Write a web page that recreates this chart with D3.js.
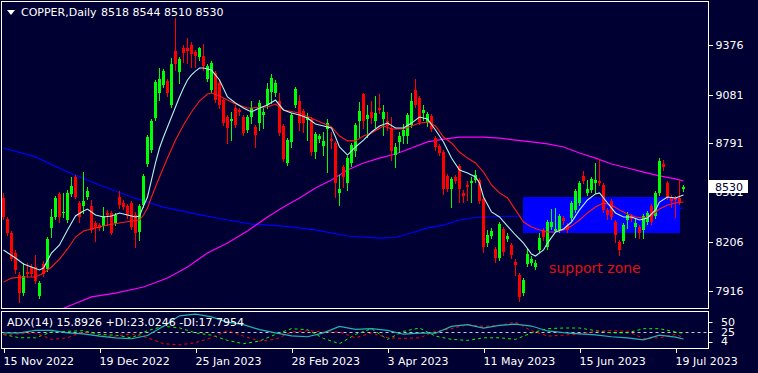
<!DOCTYPE html>
<html><head><meta charset="utf-8">
<script src="https://cdn.jsdelivr.net/npm/d3@7"></script>
<style>
html,body{margin:0;padding:0;background:#000033;}
svg{display:block;font-family:"DejaVu Sans",sans-serif;}
</style></head><body>
<svg id="c" width="758" height="373"></svg>
<script>
// ---------- DATA ----------
const symbolTitle = "COPPER,Daily";
const lastOHLC = "8518 8544 8510 8530";
const lastClose = 8530;
// [open, high, low, close] per daily bar
const candles = [
[8467,8497,8342,8354],[8342,8354,8247,8259],[8259,8271,8098,8104],[8140,8158,8021,8039],[8009,8027,7849,7902],
[7902,8081,7890,8003],[8027,8081,8003,8015],[8057,8075,8003,8015],[8057,8128,7962,7974],[7885,7974,7873,7962],
[8075,8092,8003,8015],[8045,8235,8033,8223],[8289,8401,8235,8354],[8354,8479,8342,8467],[8491,8502,8324,8354],
[8378,8497,8354,8384],[8336,8514,8324,8497],[8491,8592,8479,8538],[8592,8603,8467,8473],[8437,8449,8324,8354],
[8419,8621,8378,8449],[8473,8532,8461,8508],[8419,8455,8265,8277],[8318,8330,8211,8289],[8306,8318,8277,8289],
[8300,8413,8277,8360],[8378,8396,8306,8366],[8378,8390,8253,8259],[8318,8378,8306,8366],[8473,8508,8407,8425],
[8437,8455,8401,8413],[8419,8431,8348,8360],[8437,8449,8283,8294],[8366,8384,8176,8259],[8265,8431,8217,8419],
[8425,8609,8413,8598],[8669,8841,8657,8829],[8752,8936,8740,8924],[8942,9168,8930,9156],[9091,9239,9049,9174],
[9138,9233,9126,9221],[9162,9174,9073,9091],[9019,9299,9008,9263],[9340,9536,9227,9263],[9215,9305,9150,9293],
[9358,9376,9275,9328],[9358,9417,9269,9340],[9376,9394,9245,9322],[9334,9346,9245,9311],[9305,9364,9287,9358],
[9311,9382,9227,9251],[9174,9263,9162,9251],[9109,9281,9097,9269],[9210,9221,9037,9049],[9150,9168,9002,9019],
[9049,9061,8901,8912],[8948,8960,8794,8883],[8924,8978,8811,8936],[9002,9019,8889,8901],[8990,9002,8960,8978],
[8948,8960,8841,8853],[8871,8960,8859,8948],[8948,9043,8912,9002],[8889,8901,8770,8841],[8912,9049,8871,9031],
[8960,9002,8883,8978],[9019,9150,9002,9114],[9097,9204,9031,9180],[9091,9168,9073,9150],[9043,9091,8841,8853],
[8895,8907,8687,8699],[8675,8823,8663,8811],[8800,8972,8770,8960],[9019,9126,9008,9114],[9043,9079,8871,8912],
[8984,8996,8859,8912],[8930,8972,8811,8948],[8936,8948,8722,8740],[8740,8859,8704,8847],[8817,8847,8800,8835],
[8776,8859,8722,8806],[8877,8936,8621,8912],[8817,8859,8764,8806],[8794,8806,8473,8556],[8497,8603,8425,8520],
[8651,8663,8532,8592],[8556,8716,8514,8704],[8675,8794,8657,8782],[8746,8912,8716,8901],[8924,9037,8829,8984],
[9085,9091,8883,8924],[8936,9019,8829,8960],[8978,9043,8912,8942],[8924,9073,8889,8972],[9002,9085,8972,8990],
[8936,9019,8841,8978],[8924,8978,8871,8895],[8883,8948,8693,8746],[8722,8794,8651,8770],[8800,8859,8740,8835],
[8835,8907,8794,8871],[8835,8972,8794,8960],[8901,9091,8889,9043],[9109,9174,9008,9019],[9061,9073,8907,8918],
[8972,9019,8930,8990],[8912,8978,8895,8966],[8954,8966,8865,8877],[8823,8835,8752,8770],[8776,8788,8722,8734],
[8740,8752,8491,8520],[8598,8609,8508,8520],[8520,8592,8413,8580],[8592,8603,8556,8568],[8657,8669,8443,8520],
[8497,8514,8443,8479],[8544,8568,8455,8532],[8556,8592,8443,8568],[8574,8633,8562,8603],[8574,8586,8437,8449],
[8461,8473,8146,8176],[8199,8277,8182,8247],[8241,8289,8229,8271],[8164,8176,8087,8110],[8110,8324,8098,8312],
[8283,8294,8128,8146],[8223,8259,8211,8241],[8188,8199,8110,8128],[8087,8104,8009,8069],[8009,8021,7855,7879],
[7902,7991,7890,7980],[8075,8170,8063,8134],[8081,8122,8069,8104],[8057,8098,8045,8081],[8158,8259,8146,8229],
[8277,8289,8217,8235],[8176,8336,8164,8324],[8294,8401,8283,8324],[8271,8407,8265,8283],[8277,8372,8265,8360],
[8348,8360,8312,8330],[8306,8318,8265,8277],[8348,8449,8336,8437],[8396,8520,8384,8508],[8437,8568,8425,8556],
[8598,8627,8556,8568],[8497,8574,8485,8520],[8514,8592,8502,8580],[8556,8675,8497,8574],[8568,8699,8544,8556],
[8544,8556,8384,8396],[8396,8407,8342,8366],[8449,8461,8342,8354],[8324,8336,8205,8247],[8205,8217,8128,8158],
[8211,8318,8199,8306],[8336,8384,8289,8366],[8360,8372,8330,8342],[8294,8348,8235,8318],[8294,8306,8229,8259],
[8277,8372,8229,8360],[8324,8390,8312,8378],[8419,8431,8312,8324],[8360,8508,8348,8497],[8497,8704,8485,8687],
[8669,8693,8633,8651],[8556,8568,8461,8473],[8473,8485,8413,8449],[8467,8479,8354,8455],[8467,8574,8431,8443],
[8518,8544,8510,8530]
];
// moving averages: [bar index, value]
const maFast = [[0,8158],[3,8110],[5,8075],[7,8057],[9,8039],[10,8051],[12,8140],[14,8188],[16,8277],[18,8360],[20,8390],[21,8401],[23,8366],[25,8354],[27,8360],[29,8378],[31,8366],[33,8354],[34,8360],[35,8419],[36,8473],[37,8574],[38,8675],[39,8764],[40,8829],[41,8889],[42,8948],[43,9008],[44,9067],[45,9120],[46,9168],[47,9198],[48,9221],[49,9239],[50,9239],[52,9227],[54,9168],[56,9067],[58,9031],[60,9002],[61,8990],[62,8978],[64,9002],[66,9019],[68,9049],[70,8990],[72,8972],[74,8960],[76,8942],[78,8907],[80,8895],[82,8883],[83,8829],[84,8770],[86,8722],[88,8770],[90,8811],[92,8859],[94,8895],[96,8912],[98,8883],[100,8883],[102,8912],[104,8948],[106,8936],[108,8871],[110,8800],[112,8704],[114,8633],[116,8615],[118,8592],[119,8556],[120,8473],[122,8384],[124,8354],[126,8300],[128,8247],[130,8199],[132,8134],[133,8122],[135,8158],[136,8199],[138,8265],[140,8283],[142,8324],[144,8396],[146,8455],[148,8491],[149,8497],[151,8437],[153,8378],[155,8354],[157,8354],[159,8336],[161,8348],[163,8396],[164,8443],[166,8473],[168,8467],[170,8485]];
const maSlow = [[0,7967],[2,7991],[5,7997],[8,7997],[10,8021],[12,8057],[14,8104],[16,8164],[18,8235],[20,8271],[23,8289],[26,8306],[29,8318],[32,8330],[34,8336],[35,8366],[36,8407],[37,8473],[39,8592],[41,8704],[43,8811],[45,8901],[47,8978],[49,9043],[51,9085],[52,9091],[54,9073],[56,9049],[58,9025],[61,9002],[62,9002],[66,9008],[68,9025],[70,8990],[74,8972],[78,8930],[82,8889],[84,8835],[86,8806],[88,8806],[90,8835],[92,8853],[95,8895],[97,8877],[100,8877],[102,8895],[104,8912],[106,8918],[108,8895],[110,8829],[112,8794],[114,8740],[116,8704],[118,8675],[120,8621],[122,8544],[124,8497],[126,8467],[128,8396],[130,8324],[132,8294],[134,8277],[136,8265],[138,8265],[140,8277],[142,8300],[144,8336],[146,8378],[148,8413],[150,8437],[152,8425],[154,8396],[156,8372],[158,8354],[160,8348],[162,8360],[164,8401],[166,8425],[168,8437],[170,8443]];
const maBlue = [[0,8764],[8,8711],[16,8621],[24,8544],[32,8473],[40,8413],[48,8372],[56,8336],[62,8312],[70,8300],[78,8277],[86,8241],[94,8229],[98,8232],[102,8259],[106,8289],[110,8306],[114,8336],[118,8351],[124,8357],[130,8360],[150,8384],[170,8407]];
const maMagenta = [[14,7801],[17,7831],[22,7879],[28,7902],[35,7938],[41,7991],[46,8057],[51,8140],[56,8199],[61,8271],[66,8354],[70,8413],[74,8467],[78,8526],[82,8574],[86,8633],[90,8675],[94,8704],[98,8728],[102,8764],[106,8800],[110,8817],[114,8829],[120,8829],[124,8823],[128,8811],[132,8800],[136,8788],[140,8770],[144,8734],[148,8704],[152,8669],[156,8645],[160,8621],[164,8598],[168,8580],[170,8568]];
const priceTicks = [9376, 9081, 8791, 8501, 8206, 7916];
const dateBars = [0, 24, 48, 72, 96, 120, 144, 168];
const dateLabels = ["15 Nov 2022","19 Dec 2022","25 Jan 2023","28 Feb 2023","3 Apr 2023","11 May 2023","15 Jun 2023","19 Jul 2023"];
// support zone rectangle (bars, prices) and label
const zoneBars = [130, 169];
const zonePrices = [8471, 8261];
const zoneLabel = "support zone";
const zoneLabelPos = [136.4, 8051];
// ADX(14) panel, sampled every 4 bars
const adxBars = [0,4,8,12,16,20,24,28,32,36,40,44,48,52,56,60,64,68,72,76,80,84,88,92,96,100,104,108,112,116,120,124,128,132,136,140,144,148,152,156,160,164,168,170];
const adxMain = [23.7,23.7,26.9,26.9,23.7,22.4,19.6,17.5,16.3,20.4,31.9,45.2,47.2,43.9,37.3,34,27.7,23.7,20,18.8,23.7,31.9,28.1,29,26.9,22,23.3,23.3,31.9,34,29.8,33.1,34.8,32.3,26.1,24,22.4,21.2,18.8,17.5,15,20.8,18.4,16];
const diPlus = [21.7,17.5,17.5,24.8,25.6,26.5,21.7,20.8,17.5,26.5,32,30,23.7,20.8,14.2,10.1,13.4,21.7,29,27.7,16.7,10.1,21.7,29,15.5,25.6,29.8,19.6,15.5,14.2,17.5,17.5,15.5,23.7,29,29.8,29.8,26.5,23.7,23.7,29,29,24.8,23];
const diMinus = [21.7,22.4,23.7,15.5,17.5,25.6,19.6,19.6,22.4,17.5,10.1,8.5,11.4,17.5,26.5,19.6,13.4,15.5,24.8,26.5,24.8,24.8,17.5,23.7,17.5,16.7,17.5,25.6,29,34,31.9,33.1,37.3,26.5,19.6,20.8,22.4,25.6,26.5,25.6,16.7,17.5,21.7,17.8];
const adxLevel = 25;
const adxTicks = [50, 25, 4];
const adxTitle = "ADX(14) 15.8926 +DI:23.0246 -DI:17.7954";

// ---------- DRAW ----------
const W = 758, H = 373;
const bg = "#000033";
const svg = d3.select("#c");
const mainBox = {x0:1.5, y0:1.5, x1:708.5, y1:308.5};
const adxBox = {x0:1.5, y0:311.5, x1:708.5, y1:348.5};

const x = d3.scaleLinear().domain([0,170]).range([3.5,683.5]);
const y = d3.scaleLinear().domain([7916,9376]).range([290.7,45]);
const ya = d3.scaleLinear().domain([4,50]).range([348.5,312]);

svg.append("rect").attr("width",W).attr("height",H).attr("fill",bg);

const defs = svg.append("defs");
defs.append("clipPath").attr("id","cm").append("rect")
  .attr("x",mainBox.x0+0.5).attr("y",mainBox.y0+0.5)
  .attr("width",mainBox.x1-mainBox.x0-1).attr("height",mainBox.y1-mainBox.y0-1);
defs.append("clipPath").attr("id","ca").append("rect")
  .attr("x",adxBox.x0+0.5).attr("y",adxBox.y0+0.5)
  .attr("width",adxBox.x1-adxBox.x0-1).attr("height",adxBox.y1-adxBox.y0-1);

const gm = svg.append("g").attr("clip-path","url(#cm)");

// support zone (background object)
gm.append("rect")
  .attr("x", Math.round(x(zoneBars[0])-0.5))
  .attr("y", Math.round(y(zonePrices[0])))
  .attr("width", Math.round(x(zoneBars[1])+0.5) - Math.round(x(zoneBars[0])-0.5))
  .attr("height", Math.round(y(zonePrices[1])) - Math.round(y(zonePrices[0])))
  .attr("fill","#0000ff");

const line = d3.line().x(d=>x(d[0])).y(d=>y(d[1]));
gm.append("path").attr("d",line(maBlue)).attr("fill","none").attr("stroke","#0000ff").attr("stroke-width",1.2);
gm.append("path").attr("d",line(maMagenta)).attr("fill","none").attr("stroke","#ff00ff").attr("stroke-width",1.2);

// candles
const cg = gm.append("g").attr("shape-rendering","crispEdges");
candles.forEach((c,i)=>{
  const [o,h,l,cl] = c;
  const col = cl >= o ? "#00ff00" : "#ff0000";
  const cx = x(i);
  cg.append("line").attr("x1",cx).attr("x2",cx)
    .attr("y1",Math.round(y(h))).attr("y2",Math.round(y(l))+1)
    .attr("stroke",col).attr("stroke-width",1);
  const top = Math.round(y(Math.max(o,cl)));
  const bot = Math.round(y(Math.min(o,cl)));
  cg.append("rect").attr("x",cx-1.5).attr("y",top)
    .attr("width",3).attr("height",Math.max(1,bot-top))
    .attr("fill",col);
});

gm.append("path").attr("d",line(maSlow)).attr("fill","none").attr("stroke","#ff1a1a").attr("stroke-width",1.1);
gm.append("path").attr("d",line(maFast)).attr("fill","none").attr("stroke","#b4f5ea").attr("stroke-width",1.1);

// support zone label
gm.append("text").attr("x",x(zoneLabelPos[0])).attr("y",y(zoneLabelPos[1]))
  .attr("dy","0.35em").attr("font-size",14).attr("fill","#e01010").text(zoneLabel);

// title
svg.append("path").attr("d","M7,10 L15,10 L11,15 Z").attr("fill","#ffffff");
svg.append("text").attr("x",21).attr("y",16).attr("font-size",11).attr("fill","#ffffff").text(symbolTitle);
svg.append("text").attr("x",101).attr("y",16).attr("font-size",11).attr("fill","#ffffff").text(lastOHLC);

// panel borders
[mainBox, adxBox].forEach(b=>{
  svg.append("rect").attr("x",b.x0).attr("y",b.y0).attr("width",b.x1-b.x0).attr("height",b.y1-b.y0)
    .attr("fill","none").attr("stroke","#ffffff").attr("stroke-width",1);
});

// price axis
const ax = svg.append("g").attr("transform",`translate(${mainBox.x1},0)`)
  .call(d3.axisRight(y).tickValues(priceTicks).tickSize(4).tickPadding(3).tickFormat(d3.format("d")));
ax.select(".domain").remove();
ax.selectAll("line").attr("stroke","#ffffff").attr("shape-rendering","crispEdges");
ax.selectAll("text").attr("fill","#ffffff").attr("font-size",11).attr("font-family","DejaVu Sans");

// last price label
const ly = y(lastClose);
svg.append("rect").attr("x",709).attr("y",Math.round(ly)-7).attr("width",39).attr("height",13).attr("fill","#ffffff");
svg.append("text").attr("x",715).attr("y",ly).attr("dy","0.36em").attr("font-size",11).attr("fill",bg).text(lastClose);

// ADX panel
const ga = svg.append("g").attr("clip-path","url(#ca)");
ga.append("line").attr("x1",adxBox.x0).attr("x2",adxBox.x1).attr("y1",Math.round(ya(adxLevel))+0.5).attr("y2",Math.round(ya(adxLevel))+0.5)
  .attr("stroke","#c8c8c8").attr("stroke-dasharray","3,3");
const la = d3.line().x((d,i)=>x(adxBars[i])).y(d=>ya(d));
ga.append("path").attr("d",la(diPlus)).attr("fill","none").attr("stroke","#00ff00").attr("stroke-dasharray","3,3");
ga.append("path").attr("d",la(diMinus)).attr("fill","none").attr("stroke","#ff0000").attr("stroke-dasharray","3,3");
ga.append("path").attr("d",la(adxMain)).attr("fill","none").attr("stroke","#22b4b4").attr("stroke-width",1.2);
svg.append("text").attr("x",7).attr("y",326).attr("font-size",11).attr("fill","#ffffff").text(adxTitle);

const adxLabelY = v => v===adxTicks[0] ? ya(v)+10 : (v===adxTicks[2] ? ya(v)-7 : ya(v));
adxTicks.forEach(v=>{
  const yy = Math.round(adxLabelY(v))+0.5;
  svg.append("line").attr("x1",adxBox.x1).attr("x2",adxBox.x1+4).attr("y1",yy).attr("y2",yy).attr("stroke","#ffffff");
  svg.append("text").attr("x",721).attr("y",adxLabelY(v)).attr("dy","0.36em").attr("font-size",11).attr("fill","#ffffff").text(v);
});

// date axis
const dx = svg.append("g").attr("transform",`translate(0,${adxBox.y1})`)
  .call(d3.axisBottom(x).tickValues(dateBars).tickSize(4).tickFormat((d,i)=>dateLabels[i]));
dx.select(".domain").remove();
dx.selectAll("line").attr("stroke","#ffffff").attr("shape-rendering","crispEdges");
dx.selectAll("text").attr("fill","#ffffff").attr("font-size",11).attr("font-family","DejaVu Sans")
  .attr("text-anchor","start").attr("y",16).attr("dy",0).attr("x",-0.5);
</script>
</body></html>
